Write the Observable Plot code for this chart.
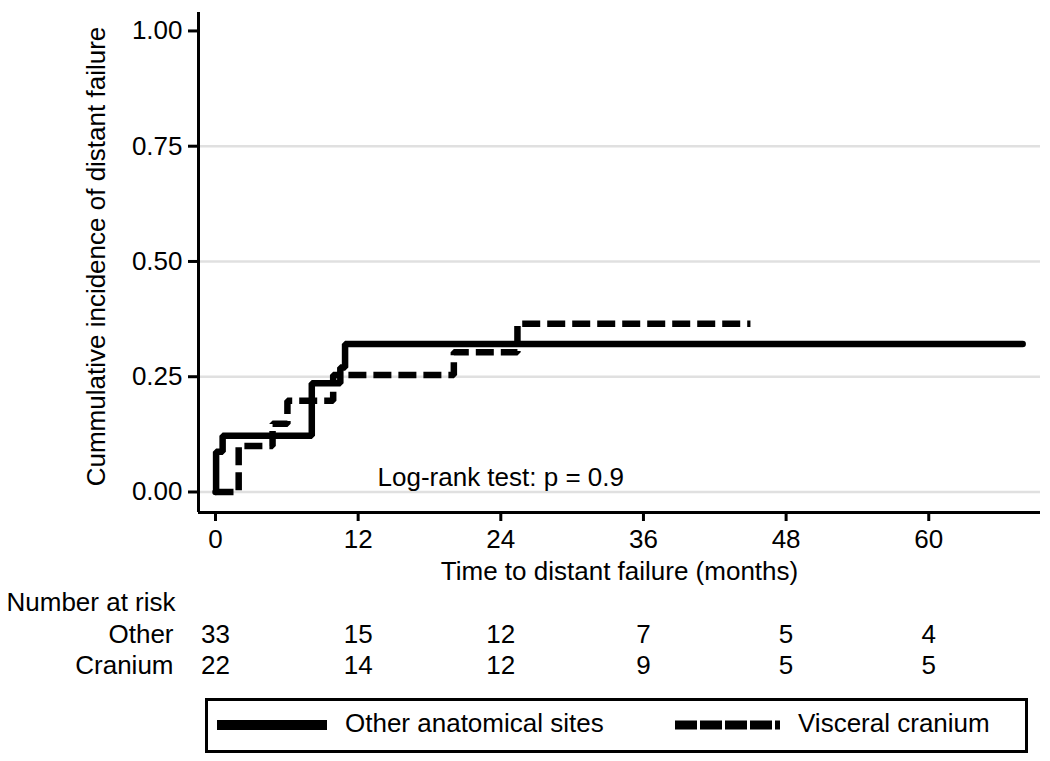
<!DOCTYPE html>
<html>
<head>
<meta charset="utf-8">
<script src="https://cdn.jsdelivr.net/npm/d3@7"></script>
<script src="https://cdn.jsdelivr.net/npm/@observablehq/plot@0.6"></script>
<style>
  html, body { margin: 0; padding: 0; background: white; }
  body { width: 1050px; height: 761px; overflow: hidden; font-family: "Liberation Sans", Arial, sans-serif; }
  #legend { position: relative; margin-left: 205px; margin-top: 8px; width: 823px; height: 55px; border: 3px solid black; box-sizing: border-box; }
  #legend svg { position: absolute; left: 0; top: 0; }
</style>
</head>
<body>
<div id="chart"></div>
<div id="legend"></div>
<script>
// ---- data ----
const otherTime = [0, 0.05, 0.6, 8.1, 10.5, 10.9, 67.9];
const otherCI   = [0, 0.087, 0.122, 0.236, 0.27, 0.321, 0.321];
const craniumTime = [0, 1.95, 4.8, 6.05, 9.9, 20.05, 25.4, 45.0];
const craniumCI   = [0, 0.100, 0.148, 0.198, 0.254, 0.303, 0.365, 0.365];

const xTicks = [0, 12, 24, 36, 48, 60];
const yTicks = [0, 0.25, 0.5, 0.75, 1];
const gridValues = [0, 0.25, 0.5, 0.75];

const riskTimes = [0, 12, 24, 36, 48, 60];
const riskOther = [33, 15, 12, 7, 5, 4];
const riskCranium = [22, 14, 12, 9, 5, 5];
const groupLabels = ["Other", "Cranium"];
const seriesNames = ["Other anatomical sites", "Visceral cranium"];

const yTitle = "Cummulative incidence of distant failure";
const xTitle = "Time to distant failure (months)";
const riskTitle = "Number at risk";
const annotation = [{t: 13.63, ci: 0.014, label: "Log-rank test: p = 0.9"}];

// ---- build ----
const xDomain = [-1.43, 69.4];
const yDomain = [-0.0445, 1.040];
const FS = 26;
const solidStyle = {stroke: "black", strokeWidth: 6.5, strokeLinejoin: "miter", strokeLinecap: "round"};
const dashStyle = {stroke: "black", strokeWidth: 6.5, strokeLinejoin: "miter", strokeLinecap: "butt", strokeDasharray: "18,7"};

const other = otherTime.map((t, i) => ({t, ci: otherCI[i]}));
const cranium = craniumTime.map((t, i) => ({t, ci: craniumCI[i]}));

const chart = Plot.plot({
  width: 1050,
  height: 690,
  marginLeft: 198,
  marginRight: 10,
  marginTop: 12,
  marginBottom: 178,
  x: {domain: xDomain},
  y: {domain: yDomain},
  style: {fontFamily: "'Liberation Sans', Arial, sans-serif", fontSize: FS + "px", color: "black", background: "white", overflow: "visible"},
  marks: [
    Plot.gridY(gridValues, {stroke: "#e0e0e0", strokeOpacity: 1, strokeWidth: 2.5}),
    Plot.ruleX([xDomain[0]], {stroke: "black", strokeWidth: 3}),
    Plot.ruleY([yDomain[0]], {stroke: "black", strokeWidth: 3}),
    Plot.axisY({ticks: yTicks, tickFormat: d3.format(".2f"), tickSize: 10, tickPadding: 6, strokeWidth: 3, label: null, fontSize: FS}),
    Plot.axisX({ticks: xTicks, tickFormat: d3.format("d"), tickSize: 9, tickPadding: 8, strokeWidth: 3, label: null, fontSize: FS}),
    Plot.line(other, {x: "t", y: "ci", curve: "step-after", ...solidStyle}),
    Plot.line(cranium, {x: "t", y: "ci", curve: "step-after", ...dashStyle}),
    Plot.text(annotation, {x: "t", y: "ci", text: "label", textAnchor: "start", lineAnchor: "bottom", fontSize: FS}),
    Plot.text([yTitle], {frameAnchor: "left", textAnchor: "middle", lineAnchor: "middle", rotate: -90, dx: -102, dy: -6, fontSize: FS}),
    Plot.text([xTitle], {frameAnchor: "bottom", textAnchor: "middle", lineAnchor: "bottom", dy: 67, fontSize: FS}),
    Plot.text([riskTitle], {frameAnchor: "bottom-left", textAnchor: "start", lineAnchor: "bottom", dx: -192, dy: 98, fontSize: FS}),
    Plot.text([groupLabels[0]], {frameAnchor: "bottom-left", textAnchor: "end", lineAnchor: "bottom", dx: -25, dy: 130, fontSize: FS}),
    Plot.text([groupLabels[1]], {frameAnchor: "bottom-left", textAnchor: "end", lineAnchor: "bottom", dx: -25, dy: 161, fontSize: FS}),
    Plot.text(riskTimes, {x: d => d, text: (d, i) => String(riskOther[i]), frameAnchor: "bottom", lineAnchor: "bottom", dy: 130, fontSize: FS}),
    Plot.text(riskTimes, {x: d => d, text: (d, i) => String(riskCranium[i]), frameAnchor: "bottom", lineAnchor: "bottom", dy: 161, fontSize: FS})
  ]
});
document.getElementById("chart").appendChild(chart);

// ---- legend below the chart ----
const lg = d3.select("#legend").append("svg").attr("width", 817).attr("height", 49)
  .style("font-family", "'Liberation Sans', Arial, sans-serif").style("font-size", FS + "px");
lg.append("line").attr("x1", 9).attr("x2", 119).attr("y1", 24).attr("y2", 24)
  .attr("stroke", "black").attr("stroke-width", 10);
lg.append("text").attr("x", 137).attr("y", 31).attr("fill", "black").text(seriesNames[0]);
lg.append("line").attr("x1", 467).attr("x2", 572).attr("y1", 24).attr("y2", 24)
  .attr("stroke", "black").attr("stroke-width", 9).attr("stroke-dasharray", "22,3");
lg.append("text").attr("x", 590).attr("y", 31).attr("fill", "black").text(seriesNames[1]);
</script>
</body>
</html>
